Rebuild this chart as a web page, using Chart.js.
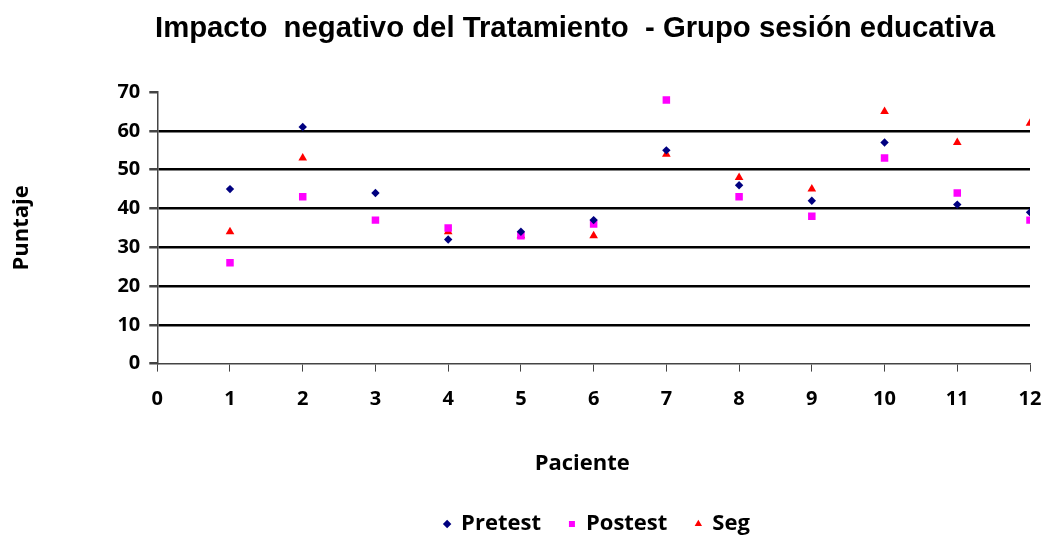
<!DOCTYPE html>
<html>
<head>
<meta charset="utf-8">
<script src="https://cdn.jsdelivr.net/npm/chart.js@4/dist/chart.umd.min.js"></script>
<style>
  html, body { margin: 0; padding: 0; background: #fff; }
  #wrap { width: 1047px; height: 537px; }
</style>
</head>
<body>
<div id="wrap"><canvas id="myChart" width="1047" height="537"></canvas></div>
<script>
var pacientes = [1,2,3,4,5,6,7,8,9,10,11,12];
var pretest = [45,61,44,32,34,37,55,46,42,57,41,39];
var postest = [26,43,37,35,33,36,68,43,38,53,44,37];
var segPacientes = [1,2,4,5,6,7,8,9,10,11,12];
var segValores = [34,53,34,33,33,54,48,45,65,57,62];

function puntos(xs, ys){
  return xs.map(function(x, i){ return {x: x, y: ys[i]}; });
}

var fuente = "'Open Sans', 'DejaVu Sans', sans-serif";

// corre el titulo y la leyenda como en el original
var mover = {
  id: "mover",
  afterLayout: function(chart){
    var t = chart.titleBlock;
    if (t) { t.left += 49; t.right += 49; }
    var l = chart.legend;
    if (l) { l.left += 71; l.right += 71; l.top += 8; l.bottom += 8; }
  }
};

new Chart("myChart", {
  type: "scatter",
  plugins: [mover],
  data: {
    datasets: [{
      label: "Pretest",
      data: puntos(pacientes, pretest),
      pointStyle: "rectRot",
      radius: 4.2,
      backgroundColor: "#000080",
      borderColor: "#000080",
      borderWidth: 0
    },{
      label: "Postest",
      data: puntos(pacientes, postest),
      pointStyle: "rect",
      radius: 5.3,
      backgroundColor: "#ff00ff",
      borderColor: "#ff00ff",
      borderWidth: 0
    },{
      label: "Seg",
      data: puntos(segPacientes, segValores),
      pointStyle: "triangle",
      radius: 5,
      backgroundColor: "#ff0000",
      borderColor: "#ff0000",
      borderWidth: 0
    }]
  },
  options: {
    responsive: false,
    animation: false,
    layout: {
      padding: { left: 5, right: 0, top: 4, bottom: 0 }
    },
    plugins: {
      tooltip: { enabled: false },
      title: {
        display: true,
        text: "Impacto  negativo del Tratamiento  - Grupo sesión educativa",
        color: "#000",
        font: { family: "'Liberation Sans', Arial, sans-serif", size: 29.3, weight: "bold" },
        padding: { top: 7, bottom: 46 }
      },
      legend: {
        position: "bottom",
        labels: {
          usePointStyle: true,
          boxWidth: 6,
          boxHeight: 6,
          padding: 28,
          color: "#000",
          font: { family: fuente, size: 22, weight: "bold" }
        }
      }
    },
    scales: {
      x: {
        type: "linear",
        min: 0,
        max: 12,
        afterFit: function(eje){ eje.paddingRight = 17; },
        ticks: {
          stepSize: 1,
          color: "#000",
          padding: 16,
          font: { family: fuente, size: 20, weight: "bold" }
        },
        grid: {
          drawOnChartArea: false,
          drawTicks: true,
          tickLength: 8,
          tickColor: "#444"
        },
        border: { color: "#444", width: 1.5 },
        title: {
          display: true,
          text: "Paciente    ",
          color: "#000",
          padding: { top: 23, bottom: 0 },
          font: { family: fuente, size: 22, weight: "bold" }
        }
      },
      y: {
        min: 0,
        max: 70,
        ticks: {
          stepSize: 10,
          color: "#000",
          padding: 9,
          font: { family: fuente, size: 20, weight: "bold" }
        },
        grid: {
          color: function(ctx){
            var v = ctx.tick ? ctx.tick.value : 0;
            return (v === 0 || v === 70) ? "rgba(0,0,0,0)" : "#000";
          },
          lineWidth: 2.5,
          drawTicks: true,
          tickLength: 8,
          tickColor: "#444"
        },
        border: { color: "#444", width: 1.5 },
        title: {
          display: true,
          text: "Puntaje",
          color: "#000",
          padding: { top: 4, bottom: 73 },
          font: { family: fuente, size: 22, weight: "bold" }
        }
      }
    }
  }
});
</script>
</body>
</html>
